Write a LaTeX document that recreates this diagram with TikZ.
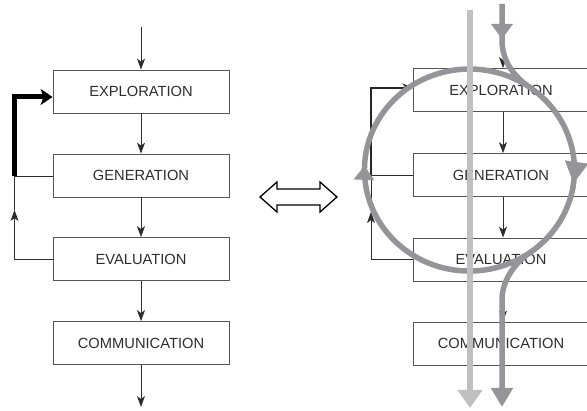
\documentclass[tikz,border=0pt]{standalone}
\usepackage{fontspec}
\setmainfont{Liberation Sans}
\usetikzlibrary{arrows.meta,decorations.markings}
\definecolor{ink}{RGB}{45,45,45}
\definecolor{boxline}{RGB}{85,85,85}
\definecolor{lightg}{RGB}{192,192,192}
\definecolor{darkg}{RGB}{148,148,153}
\begin{document}
\begin{tikzpicture}[x=1pt,y=-1pt,
  stagebox/.style={draw=boxline,line width=0.8pt,minimum width=176pt,minimum height=43pt,inner sep=0pt,
    font=\fontsize{14.7}{16}\selectfont,text=ink},
  flow/.style={draw=ink,line width=0.9pt,-{Stealth[length=11pt,width=8pt,inset=3pt]}},
  thinline/.style={draw=ink,line width=0.9pt},
  boldfb/.style={draw=black,line width=5pt,-{Stealth[length=12pt,width=16pt,inset=3pt]}},
  medfb/.style={draw=black!85,line width=2.5pt,-{Stealth[length=10pt,width=9pt,inset=3pt]}},
  grayhead/.style={-{Triangle[length=19pt,width=21pt]}},
]
\useasboundingbox (0,0) rectangle (587,411);
\clip (0,0) rectangle (587,411);

% ---------- left diagram ----------
\node[stagebox] (e1) at (141,91.5) {EXPLORATION};
\node[stagebox] (g1) at (141,175.5) {GENERATION};
\node[stagebox] (v1) at (141,259) {EVALUATION};
\node[stagebox] (c1) at (141,343) {COMMUNICATION};
\coordinate (in1) at (141,27);
\coordinate (out1) at (141,407);
\draw[flow] (in1) -- (e1);
\draw[flow] (e1) -- (g1);
\draw[flow] (g1) -- (v1);
\draw[flow] (v1) -- (c1);
\draw[flow] (c1) -- (out1);
\coordinate (fbA) at (14.5,176);
\coordinate (fbB) at (14.5,210);
\draw[thinline] (g1.west |- fbA) -- (fbA);
\draw[flow] (v1.west) -| (fbB);
\draw[thinline] (fbB) -- (fbA);
\draw[boldfb] (fbA) |- ([yshift=-5.5pt]e1.west);

% ---------- double arrow ----------
\draw[line width=1.3pt,line join=miter]
  (260,197) -- (277,182) -- (277,189) -- (320,189) -- (320,182) -- (337,197)
  -- (320,212) -- (320,205) -- (277,205) -- (277,212) -- cycle;

% ---------- right diagram ----------
\node[stagebox] (e2) at (501,90) {EXPLORATION};
\node[stagebox] (g2) at (501,175) {GENERATION};
\node[stagebox] (v2) at (501,259.5) {EVALUATION};
\node[stagebox] (c2) at (501,343.5) {COMMUNICATION};
\coordinate (in2) at (503,27);
\coordinate (out2) at (502,405);
\draw[flow] (in2) -- (in2 |- e2.north);
\draw[flow] (e2.south -| in2) -- (g2.north -| in2);
\draw[flow] (g2.south -| in2) -- (v2.north -| in2);
\draw[flow] (v2.south -| in2) -- (c2.north -| in2);
\draw[flow] (c2.south -| out2) -- (out2);
\coordinate (fbC) at (371,175);
\coordinate (fbD) at (371,212);
\draw[thinline] (g2.west) -- (fbC);
\draw[flow] (v2.west) -| (fbD);
\draw[thinline] (fbD) -- (fbC);
\draw[medfb] (fbC) |- ([yshift=2pt]e2.west);

% gray loop path
\coordinate (dIn) at (502,4);
\coordinate (dOut) at (502,407);
\draw[darkg,line width=5.5pt,grayhead,
  postaction={decorate},
  decoration={markings,
    mark=at position 35pt with {\arrow{Triangle[length=15pt,width=21pt]}},
    mark=at position 205pt with {\arrow{Triangle[length=22pt,width=22pt]}},
    mark=at position 519pt with {\arrow{Triangle[length=14pt,width=20pt]}}}]
  (dIn) -- (502,40) .. controls (502,62) and (514.8,77.2) .. (529.7,87.3)
  arc[start angle=-55,end angle=415,x radius=105,y radius=101]
  .. controls (515,263) and (502,280) .. (502,300) -- (dOut);

% light straight arrow
\coordinate (lIn) at (470,10);
\coordinate (lOut) at (470,408);
\draw[lightg,line width=6.5pt,-{Triangle[length=18pt,width=24pt]}] (lIn) -- (lOut);
\end{tikzpicture}
\end{document}
